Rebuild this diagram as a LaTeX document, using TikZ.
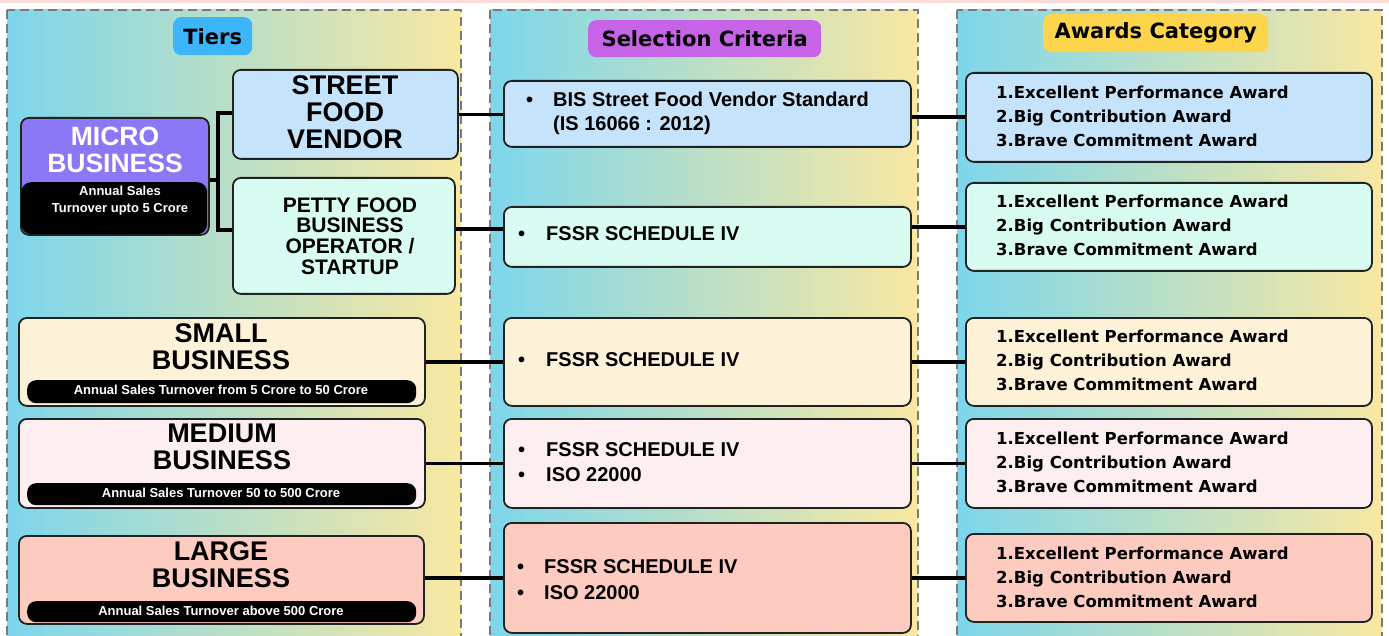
\documentclass[tikz,border=0pt]{standalone}
\usepackage{fontspec}
\setmainfont{Liberation Sans}
\newfontfamily\headfont{DejaVu Sans}
\usetikzlibrary{calc}

\definecolor{colL}{HTML}{7DD6EB}
\definecolor{colM}{HTML}{BDE3CD}
\definecolor{colR}{HTML}{F8E8A2}
\definecolor{dashgray}{HTML}{7A7A7A}
\definecolor{edge}{HTML}{222222}
\definecolor{skyfill}{HTML}{C5E4FB}
\definecolor{mintfill}{HTML}{D8FCF2}
\definecolor{creamfill}{HTML}{FDF1D7}
\definecolor{blushfill}{HTML}{FDEFEF}
\definecolor{salmonfill}{HTML}{FDCBBF}
\definecolor{microfill}{HTML}{8B78F6}
\definecolor{hdrblue}{HTML}{3CB5FB}
\definecolor{hdrpurple}{HTML}{C763E6}
\definecolor{hdryellow}{HTML}{FCD54C}
\definecolor{topstrip}{HTML}{FCDCD8}

\tikzset{
  column/.style={draw=dashgray, line width=2.8pt, dash pattern=on 9pt off 5pt,
                 left color=colL, middle color=colM, right color=colR},
  box/.style={draw=edge, line width=1.8pt, rounded corners=8pt, inner sep=0pt, anchor=north west},
  header/.style={rounded corners=8pt, inner sep=0pt, anchor=north west,
                 font=\headfont\bfseries\fontsize{21}{21}\selectfont},
  bar/.style={fill=black, rounded corners=9pt, inner sep=0pt, anchor=north west},
  bartext/.style={text=white, font=\bfseries\fontsize{13}{13}\selectfont, inner sep=0pt},
  titletext/.style={align=center, inner sep=0pt, font=\bfseries\fontsize{27}{27}\selectfont},
  crittext/.style={anchor=west, inner sep=0pt, font=\bfseries\fontsize{20}{25}\selectfont},
  awardtext/.style={anchor=west, align=left, inner sep=0pt, font=\headfont\bfseries\fontsize{16.5}{24}\selectfont},
  conn/.style={line width=3.2pt, black},
}

\newcommand{\awardlist}{1.Excellent Performance Award\\2.Big Contribution Award\\3.Brave Commitment Award}

\begin{document}
\begin{tikzpicture}[x=1pt,y=-1pt]
\useasboundingbox (0,0) rectangle (1389,636);
\clip (0,0) rectangle (1389,636);
\fill[topstrip] (0,0) rectangle (1389,3);

% the three dashed columns with their soft gradient
\shade[column] (7,10) rectangle (461,645);
\shade[column] (490,10) rectangle (918,645);
\shade[column] (957,10) rectangle (1382,645);

% column headers
\node[header, fill=hdrblue, minimum width=79pt, minimum height=38pt] (hTiers) at (173,17) {Tiers};
\node[header, fill=hdrpurple, minimum width=233pt, minimum height=37pt] (hCrit) at (588,20) {Selection Criteria};
\node[header, fill=hdryellow, minimum width=225pt, minimum height=38pt] (hAward) at (1043,14) {Awards Category};

% ---- tiers ----
\node[box, fill=microfill, minimum width=188pt, minimum height=117pt] (micro) at (20,117) {};
\node[bar, rounded corners=10pt, minimum width=186pt, minimum height=52pt] (microbar) at (21,182) {};
\node[titletext, text=white, font=\bfseries\fontsize{26.5}{27}\selectfont] (microtitle) at (115,150) {MICRO\\BUSINESS};
\node[bartext, align=center, font=\bfseries\fontsize{13}{17}\selectfont] (microsub) at (120,201) {Annual Sales\\Turnover upto 5 Crore};

\node[box, fill=skyfill, minimum width=225pt, minimum height=89pt] (street) at (232,69) {};
\node[titletext] (streett) at (345,112) {STREET\\FOOD\\VENDOR};

\node[box, fill=mintfill, minimum width=222pt, minimum height=116pt] (petty) at (232,177) {};
\node[titletext, font=\bfseries\fontsize{21}{20.6}\selectfont] (pettyt) at (350,236) {PETTY FOOD\\BUSINESS\\OPERATOR /\\STARTUP};

\node[box, fill=creamfill, minimum width=406pt, minimum height=88pt] (small) at (18,317) {};
\node[titletext] (smallt) at (221,347) {SMALL\\BUSINESS};
\node[bar, minimum width=389pt, minimum height=23pt] (smallbar) at (27,380) {};
\node[bartext] (smalls) at (221,390) {Annual Sales Turnover from 5 Crore to 50 Crore};

\node[box, fill=blushfill, minimum width=406pt, minimum height=89pt] (medium) at (18,418) {};
\node[titletext] (mediumt) at (222,447) {MEDIUM\\BUSINESS};
\node[bar, minimum width=389pt, minimum height=22pt] (mediumbar) at (27,483) {};
\node[bartext] (mediums) at (221,493) {Annual Sales Turnover 50 to 500 Crore};

\node[box, fill=salmonfill, minimum width=405pt, minimum height=88pt] (large) at (18,535) {};
\node[titletext] (larget) at (221,565) {LARGE\\BUSINESS};
\node[bar, minimum width=389pt, minimum height=21pt] (largebar) at (27,601) {};
\node[bartext] (larges) at (221,611) {Annual Sales Turnover above 500 Crore};

% bracket joining micro business to its two sub-tiers
\coordinate (bt) at (218,113);
\coordinate (bb) at (218,230);
\coordinate (bm) at (218,180);
\draw[conn] (street.west |- bt) -- (bt) -- (bb) -- (petty.west |- bb);
\draw[conn] (micro.east |- bm) -- (bm);

% ---- selection criteria ----
\node[box, fill=skyfill, minimum width=407pt, minimum height=66pt] (crit1) at (503,80) {};
\node[crittext] (crit1t) at (526,114) {\begin{tabular}{@{}l@{\hspace{20pt}}l@{}}\textbullet & BIS Street Food Vendor Standard\\[-1pt] & (IS 16066 : 2012)\end{tabular}};

\node[box, fill=mintfill, minimum width=407pt, minimum height=60pt] (crit2) at (503,206) {};
\node[crittext] (crit2t) at (518,236) {\begin{tabular}{@{}l@{\hspace{21pt}}l@{}}\textbullet & FSSR SCHEDULE IV\end{tabular}};

\node[box, fill=creamfill, minimum width=407pt, minimum height=88pt] (crit3) at (503,317) {};
\node[crittext] (crit3t) at (518,361) {\begin{tabular}{@{}l@{\hspace{21pt}}l@{}}\textbullet & FSSR SCHEDULE IV\end{tabular}};

\node[box, fill=blushfill, minimum width=407pt, minimum height=89pt] (crit4) at (503,418) {};
\node[crittext] (crit4t) at (518,464) {\begin{tabular}{@{}l@{\hspace{21pt}}l@{}}\textbullet & FSSR SCHEDULE IV\\[0pt]\textbullet & ISO 22000\end{tabular}};

\node[box, fill=salmonfill, minimum width=407pt, minimum height=110pt] (crit5) at (503,522) {};
\node[crittext] (crit5t) at (517,581) {\begin{tabular}{@{}l@{\hspace{20pt}}l@{}}\textbullet & FSSR SCHEDULE IV\\[1pt]\textbullet & ISO 22000\end{tabular}};

% ---- awards ----
\node[box, fill=skyfill, minimum width=406pt, minimum height=89pt] (aw1) at (965,72) {};
\node[awardtext] (aw1t) at (996,116) {\awardlist};
\node[box, fill=mintfill, minimum width=406pt, minimum height=88pt] (aw2) at (965,182) {};
\node[awardtext] (aw2t) at (996,225) {\awardlist};
\node[box, fill=creamfill, minimum width=406pt, minimum height=88pt] (aw3) at (965,317) {};
\node[awardtext] (aw3t) at (996,360) {\awardlist};
\node[box, fill=blushfill, minimum width=406pt, minimum height=89pt] (aw4) at (965,418) {};
\node[awardtext] (aw4t) at (996,462) {\awardlist};
\node[box, fill=salmonfill, minimum width=406pt, minimum height=88pt] (aw5) at (965,533) {};
\node[awardtext] (aw5t) at (996,577) {\awardlist};

% ---- connectors between columns ----
\coordinate (l2) at (0,229);
\coordinate (r1) at (0,117);
\coordinate (r2) at (0,227);
\draw[conn] (street.east) -- (crit1.west |- street.east);
\draw[conn] (crit1.east |- r1) -- (aw1.west |- r1);
\draw[conn] (petty.east |- l2) -- (crit2.west |- l2);
\draw[conn] (crit2.east |- r2) -- (aw2.west |- r2);
\draw[conn] (small.east) -- (crit3.west);
\draw[conn] (crit3.east) -- (aw3.west);
\draw[conn] (medium.east) -- (crit4.west |- medium.east);
\draw[conn] (crit4.east |- medium.east) -- (aw4.west |- medium.east);
\draw[conn] (large.east |- crit5.west) -- (crit5.west);
\draw[conn] (crit5.east) -- (aw5.west |- crit5.east);
\end{tikzpicture}
\end{document}
